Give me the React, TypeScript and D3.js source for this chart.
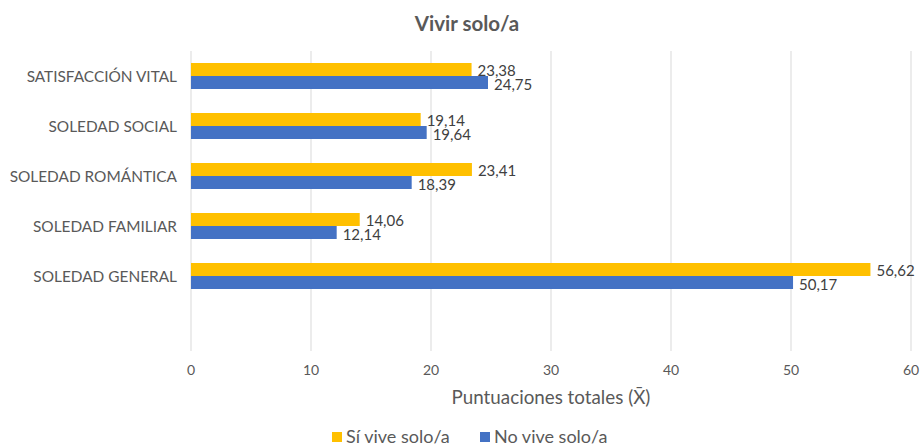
import { useEffect, useRef } from 'react';
import * as d3 from 'd3';

const categories = [
  'SATISFACCIÓN VITAL',
  'SOLEDAD SOCIAL',
  'SOLEDAD ROMÁNTICA',
  'SOLEDAD FAMILIAR',
  'SOLEDAD GENERAL',
  '',
];
const siViveSolo = [23.38, 19.14, 23.41, 14.06, 56.62];
const noViveSolo = [24.75, 19.64, 18.39, 12.14, 50.17];
const seriesNames = ['Sí vive solo/a', 'No vive solo/a'];
const seriesColors = ['#FFC000', '#4472C4'];
const xTicks = [0, 10, 20, 30, 40, 50, 60];

const fmt = (v: number) => v.toFixed(2).replace('.', ',');

export default function App() {
  const svgRef = useRef<SVGSVGElement>(null);

  useEffect(() => {
    if (!svgRef.current) return;
    const width = 920;
    const height = 446;
    const margin = { top: 51, right: 9, bottom: 95, left: 191 };
    const font = 'Lato, "Open Sans", sans-serif';

    const svg = d3.select(svgRef.current);
    svg.selectAll('*').remove();
    svg.attr('viewBox', `0 0 ${width} ${height}`);

    svg.append('rect').attr('width', width).attr('height', height).attr('fill', '#fff');

    const x = d3.scaleLinear().domain([0, 60]).range([margin.left, width - margin.right]);
    const y = d3.scaleBand().domain(categories).range([margin.top, height - margin.bottom]);
    // two bars of 13px in a 50px band
    const inner = d3.scaleBand<number>()
      .domain([0, 1])
      .range([0, y.bandwidth()])
      .paddingOuter(12 / 13);

    // gridlines
    svg.append('g')
      .selectAll('line')
      .data(xTicks)
      .join('line')
      .attr('x1', d => x(d))
      .attr('x2', d => x(d))
      .attr('y1', margin.top)
      .attr('y2', height - margin.bottom)
      .attr('stroke', '#D9D9D9')
      .attr('stroke-width', 1);

    // tick labels
    svg.append('g')
      .selectAll('text')
      .data(xTicks)
      .join('text')
      .attr('x', d => x(d))
      .attr('y', 375)
      .attr('text-anchor', 'middle')
      .style('font-family', font)
      .style('font-size', '14px')
      .style('fill', '#595959')
      .text(d => d);

    // category labels
    svg.append('g')
      .selectAll('text')
      .data(categories.filter(c => c))
      .join('text')
      .attr('x', 177)
      .attr('y', d => (y(d) ?? 0) + y.bandwidth() / 2 + 5.5)
      .attr('text-anchor', 'end')
      .style('font-family', font)
      .style('font-size', '15.4px')
      .style('fill', '#595959')
      .text(d => d);

    const series = [siViveSolo, noViveSolo];
    const cats = categories.filter(c => c);
    series.forEach((vals, si) => {
      const g = svg.append('g');
      g.selectAll('rect')
        .data(vals)
        .join('rect')
        .attr('x', x(0))
        .attr('y', (_, i) => (y(cats[i]) ?? 0) + (inner(si) ?? 0))
        .attr('width', d => x(d) - x(0))
        .attr('height', inner.bandwidth())
        .attr('fill', seriesColors[si]);
      g.selectAll('text')
        .data(vals)
        .join('text')
        .attr('x', d => x(d) + 6)
        .attr('y', (_, i) => (y(cats[i]) ?? 0) + (inner(si) ?? 0) + inner.bandwidth() + (si === 0 ? -0.5 : 0.5))
        .style('font-family', font)
        .style('font-size', '15px')
        .style('fill', '#404040')
        .text(d => fmt(d));
    });

    // title
    svg.append('text')
      .attr('x', 467)
      .attr('y', 31)
      .attr('text-anchor', 'middle')
      .style('font-family', font)
      .style('font-size', '20.5px')
      .style('font-weight', 'bold')
      .style('fill', '#595959')
      .text('Vivir solo/a');

    // axis title
    svg.append('text')
      .attr('x', x(30))
      .attr('y', 404)
      .attr('text-anchor', 'middle')
      .style('font-family', font)
      .style('font-size', '18.8px')
      .style('fill', '#595959')
      .text('Puntuaciones totales (X̄)');

    // legend
    const legendX = [332, 480];
    const lg = svg.append('g');
    seriesNames.forEach((name, i) => {
      lg.append('rect')
        .attr('x', legendX[i])
        .attr('y', 432)
        .attr('width', 10)
        .attr('height', 10)
        .attr('fill', seriesColors[i]);
      lg.append('text')
        .attr('x', legendX[i] + 14)
        .attr('y', 443)
        .style('font-family', font)
        .style('font-size', '18px')
        .style('fill', '#595959')
        .text(name);
    });
  }, []);

  return (
    <div style={{ position: 'absolute', left: 0, top: 0, width: 920, height: 446, overflow: 'hidden' }}>
      <svg ref={svgRef} width={920} height={446} style={{ display: 'block' }}></svg>
    </div>
  );
}
